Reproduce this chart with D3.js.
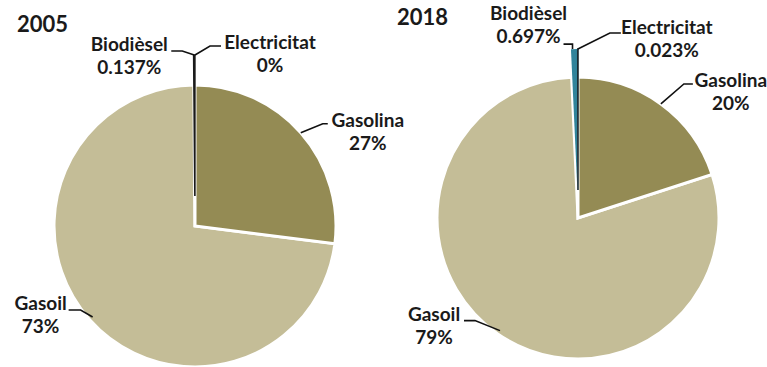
<!DOCTYPE html>
<html>
<head>
<meta charset="utf-8">
<script src="https://cdn.jsdelivr.net/npm/d3@7"></script>
<style>
  html, body { margin: 0; padding: 0; background: #fff; }
  svg { display: block; }
  text { font-family: Lato, "Open Sans", sans-serif; font-weight: bold; fill: #1a1a1a; }
</style>
</head>
<body>
<svg id="chart" width="767" height="367"></svg>
<script>
// ---- data ----
const categories = ["Gasolina", "Gasoil", "Biodièsel", "Electricitat"];
const values2005 = [27, 72.863, 0.137, 0];
const values2018 = [20, 79.28, 0.697, 0.023];
const labels2005 = ["27%", "73%", "0.137%", "0%"];
const labels2018 = ["20%", "79%", "0.697%", "0.023%"];
const years = ["2005", "2018"];

// ---- styles / layout ----
const colors = ["#948B54", "#C4BD97", "#31849B", "#1E3640"];
const svg = d3.select("#chart");

const panels = [
  {
    year: years[0], values: values2005, labels: labels2005,
    cx: 195, cy: 226, r: 141, explode: [0, 0, 30, 30],
    title: [17, 32],
    smallStroke: ["none", "none", "#1a1a1a", "#1a1a1a"],
    leaders: [
      { anchorR: 0, elbow: [22, -9], hl: 5, text: [40, 3] },
      { anchorR: -4, elbow: [-12, -7], hl: -12, text: [-28, 0] },
      { top: true, elbow: [-12, -4], hl: -11, text: [-42, 0] },
      { top: true, elbow: [15, -9], hl: 11, text: [49, 3] }
    ]
  },
  {
    year: years[1], values: values2018, labels: labels2018,
    cx: 578, cy: 218, r: 141, explode: [0, 0, 28, 28],
    title: [397, 25],
    smallStroke: ["none", "none", "none", "#1a2a30"],
    leaders: [
      { anchorR: 0, elbow: [23, -20], hl: 9, text: [38, 3] },
      { anchorR: -4, elbow: [-25, -10], hl: -11, text: [-30, 0] },
      { top: true, elbow: [0, -5], hl: -9, text: [-35, -24] },
      { top: true, elbow: [32, -16], hl: 11, text: [46, 1] }
    ]
  }
];

const lineGap = 23;

panels.forEach(p => {
  const pie = d3.pie().sort(null).startAngle(0).endAngle(2 * Math.PI).value(d => d);
  const arcs = pie(p.values);
  const arc = d3.arc().innerRadius(0).outerRadius(p.r);
  const g = svg.append("g").attr("transform", `translate(${p.cx},${p.cy})`);

  const order = [1, 0, 2, 3];
  order.forEach(i => {
    const a = arcs[i];
    if (a.endAngle - a.startAngle <= 0) return;
    const mid = (a.startAngle + a.endAngle) / 2;
    const off = p.explode[i];
    const dx = off * Math.sin(mid), dy = -off * Math.cos(mid);
    const big = i < 2;
    g.append("path")
      .attr("d", arc(a))
      .attr("transform", `translate(${dx},${dy})`)
      .attr("fill", colors[i])
      .attr("stroke", big ? "#fff" : p.smallStroke[i])
      .attr("stroke-width", big ? 3 : 1.6)
      .attr("stroke-linejoin", "miter");
  });

  arcs.forEach((a, i) => {
    const L = p.leaders[i];
    const mid = (a.startAngle + a.endAngle) / 2;
    let ax, ay;
    if (L.top) {
      const rr = p.r + p.explode[i];
      ax = p.cx + rr * Math.sin(mid);
      ay = p.cy - rr * Math.cos(mid);
    } else {
      const rr = p.r + L.anchorR;
      ax = p.cx + rr * Math.sin(mid);
      ay = p.cy - rr * Math.cos(mid);
    }
    if (p.year === "2018" && i === 2) {
      const off = p.explode[i];
      ax = p.cx + off * Math.sin(mid) + p.r * Math.sin((a.startAngle + mid) / 2);
      ay = p.cy - off * Math.cos(mid) - p.r * Math.cos((a.startAngle + mid) / 2);
    }
    const ex = ax + L.elbow[0], ey = ay + L.elbow[1];
    const hx = ex + L.hl;
    svg.append("path")
      .attr("d", d3.line()([[ax, ay], [ex, ey], [hx, ey]]))
      .attr("fill", "none")
      .attr("stroke", "#111")
      .attr("stroke-width", 1.6);
    const tx = hx + L.text[0], ty = ey + L.text[1];
    const t = svg.append("text")
      .attr("text-anchor", "middle")
      .attr("font-size", 19);
    t.append("tspan").attr("x", tx).attr("y", ty).text(categories[i]);
    t.append("tspan").attr("x", tx).attr("y", ty + lineGap).text(p.labels[i]);
  });

  svg.append("text")
    .attr("x", p.title[0]).attr("y", p.title[1])
    .attr("font-size", 22)
    .text(p.year);
});
</script>
</body>
</html>
